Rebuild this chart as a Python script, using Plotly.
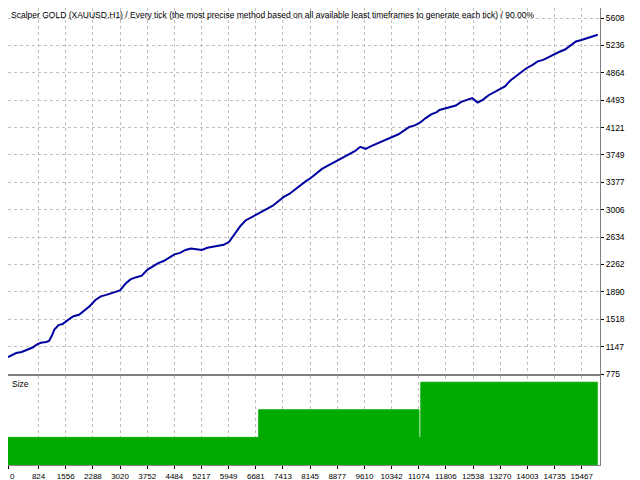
import plotly.graph_objects as go

trade_x = [0,150,300,500,700,900,1050,1200,1400,1500,1600,1700,1850,2000,2200,2400,2600,2800,3000,3200,3400,3600,3752,3900,4100,4300,4484,4700,4900,5100,5300,5500,5700,5900,6100,6300,6500,6700,6900,7100,7300,7500,7700,7900,8100,8300,8500,8700,8900,9100,9300,9500,9700,9900,10100,10300,10500,10700,10900,11100,11300,11500,11700,11900,12100,12300,12500,12700,12900,13100,13300,13500,13700,13900,14100,14300,14500,14700,14900,15100,15300,15500,15700,15800,16000,16200,16400,16600,16800,17000,17200,17400,17600,17800,18000,18200,18400,18600,18800,19000,19200,19400,19600,19800,20000,20200,20400,20600,20800,21000,21200,21400,21600]
equity = [1005,1030,1060,1075,1110,1135,1175,1200,1210,1225,1290,1380,1440,1455,1510,1560,1580,1640,1700,1780,1830,1850,1870,1890,1910,2000,2060,2090,2110,2190,2240,2280,2310,2360,2400,2420,2460,2480,2470,2460,2490,2500,2510,2530,2570,2680,2780,2860,2900,2950,2990,3020,3060,3120,3180,3220,3280,3330,3390,3440,3500,3560,3600,3640,3690,3720,3760,3800,3860,3830,3870,3900,3930,3970,4000,4030,4080,4130,4150,4190,4250,4300,4330,4360,4380,4400,4420,4470,4490,4520,4460,4500,4560,4600,4640,4680,4760,4820,4880,4930,4970,5020,5040,5080,5120,5150,5180,5240,5290,5310,5330,5360,5380]
scale = 15900 / 21600
trade_x = [round(v * scale) for v in trade_x]

size_x = [0, 6760, 6760, 11080, 11080, 11130, 11130, 15900]
size_y = [0.01, 0.01, 0.02, 0.02, 0.01, 0.01, 0.03, 0.03]

x_ticks = [0,824,1556,2288,3020,3752,4484,5217,5949,6681,7413,8145,8877,9610,10342,11074,11806,12538,13270,14003,14735,15467]
x_labels = [str(v) for v in x_ticks]
y_ticks = [775,1147,1518,1890,2262,2634,3006,3377,3749,4121,4493,4864,5236,5608]

FONT = "Liberation Sans"
fig = go.Figure()
fig.add_trace(go.Scatter(x=trade_x, y=equity, mode="lines",
                         line=dict(color="#0000A0", width=2), xaxis="x", yaxis="y"))
fig.add_trace(go.Scatter(x=size_x, y=size_y, mode="lines", fill="tozeroy",
                         line=dict(color="#00AA00", width=1), fillcolor="#00AA00",
                         xaxis="x2", yaxis="y2"))

grid = dict(showgrid=True, gridcolor="#C0C0C0", griddash="3px,3px", gridwidth=1,
            showline=True, linecolor="#808080", mirror=True, zeroline=False,
            automargin=False, tickangle=0)
fig.update_layout(
    width=628, height=472, showlegend=False,
    paper_bgcolor="white", plot_bgcolor="white",
    margin=dict(l=0, r=36, t=0, b=15, autoexpand=False),
    font=dict(family=FONT, size=8.5, color="#000000"),
    xaxis=dict(range=[0, 15960], tickvals=x_ticks, showticklabels=False,
               anchor="y", **grid),
    yaxis=dict(domain=[0.199, 1.0], range=[775, 5744], side="right",
               tickvals=y_ticks, ticks="outside", ticklen=3, tickcolor="#000",
               anchor="x", **grid),
    xaxis2=dict(range=[0, 15960], tickvals=x_ticks, ticktext=x_labels,
                ticks="outside", ticklen=3,
                tickcolor="#000", anchor="y2", tickfont=dict(size=8), **grid),
    yaxis2=dict(domain=[0.0, 0.195], range=[0, 0.0323], side="right",
                showticklabels=False, tickvals=[], anchor="x2",
                showgrid=False, showline=True, linecolor="#808080", mirror=True,
                zeroline=False, automargin=False),
    annotations=[
        dict(text="Scalper GOLD (XAUUSD,H1) / Every tick (the most precise method based on all available least timeframes to generate each tick) / 90.00%",
             xref="paper", yref="paper", x=0.002, y=0.999, xanchor="left", yanchor="top",
             showarrow=False, font=dict(size=8.5, family=FONT)),
        dict(text="Size", xref="paper", yref="paper", x=0.003, y=0.193,
             xanchor="left", yanchor="top", showarrow=False, font=dict(size=8.5, family=FONT)),
        dict(text="0", xref="paper", yref="paper", x=0.0, y=-0.012,
             xanchor="left", yanchor="top", showarrow=False, font=dict(size=8, family=FONT)),
    ],
)
fig.write_html("out.html")
